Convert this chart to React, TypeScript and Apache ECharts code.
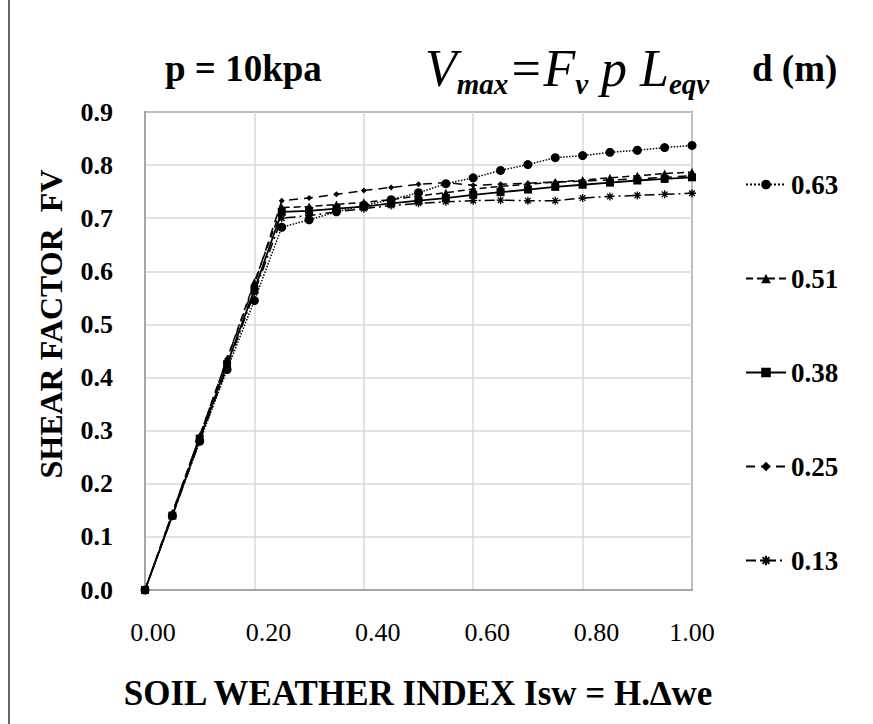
import React, { useEffect, useRef } from "react";
import * as echarts from "echarts";

const xValues = [0, 0.05, 0.1, 0.15, 0.2, 0.25, 0.3, 0.35, 0.4, 0.45, 0.5, 0.55, 0.6, 0.65, 0.7, 0.75, 0.8, 0.85, 0.9, 0.95, 1.0];
const seriesNames = ["0.63", "0.51", "0.38", "0.25", "0.13"];
const s063 = [0, 0.14, 0.28, 0.415, 0.545, 0.683, 0.697, 0.712, 0.724, 0.735, 0.748, 0.765, 0.776, 0.79, 0.801, 0.814, 0.818, 0.824, 0.828, 0.833, 0.837];
const s051 = [0, 0.145, 0.29, 0.435, 0.58, 0.72, 0.722, 0.726, 0.73, 0.735, 0.742, 0.748, 0.755, 0.76, 0.764, 0.768, 0.772, 0.776, 0.78, 0.784, 0.787];
const s038 = [0, 0.14, 0.285, 0.425, 0.565, 0.712, 0.714, 0.718, 0.722, 0.728, 0.733, 0.738, 0.744, 0.749, 0.754, 0.759, 0.763, 0.767, 0.771, 0.774, 0.777];
const s025 = [0, 0.145, 0.29, 0.435, 0.575, 0.733, 0.738, 0.745, 0.752, 0.758, 0.764, 0.767, 0.762, 0.764, 0.766, 0.768, 0.77, 0.772, 0.774, 0.777, 0.78];
const s013 = [0, 0.14, 0.28, 0.42, 0.56, 0.7, 0.705, 0.712, 0.718, 0.724, 0.728, 0.731, 0.733, 0.734, 0.733, 0.733, 0.738, 0.741, 0.743, 0.745, 0.747];

const FONT = '"Liberation Serif", "Times New Roman", serif';

const zip = (ys: number[]) => xValues.map((x, i) => [x, ys[i]]);

export default function App() {
  const ref = useRef<HTMLDivElement>(null);
  useEffect(() => {
    if (!ref.current) return;
    const chart = echarts.init(ref.current, undefined, { renderer: "svg" });
    const asterisk = "path://M0,5L10,5M5,0L5,10M1.5,1.5L8.5,8.5M8.5,1.5L1.5,8.5";
    const mk = (name: string, data: number[], symbol: string, size: number, lineType: any, width = 1.5, stroke = false) => ({
      name,
      type: "line",
      data: zip(data),
      symbol,
      symbolSize: size,
      showSymbol: true,
      lineStyle: { color: "#000", width, type: lineType },
      itemStyle: stroke
        ? { color: "#000", borderColor: "#000", borderWidth: 1.3 }
        : { color: "#000", borderColor: "#000", borderWidth: 0 },
      emphasis: { disabled: true },
    });
    const lbl = { fontFamily: FONT, fontSize: 26, color: "#000" };
    chart.setOption({
      animation: false,
      backgroundColor: "#fff",
      grid: { left: 145, right: 181, top: 112, bottom: 134, show: true, borderColor: "#404040", borderWidth: 1.5 },
      xAxis: {
        type: "value",
        min: 0,
        max: 1,
        interval: 0.2,
        axisLine: { show: true, lineStyle: { color: "#a6a6a6", width: 2 } },
        axisTick: { show: false },
        splitLine: { show: true, lineStyle: { color: "#d9d9d9", width: 1.5 } },
        axisLabel: {
          showMinLabel: true,
          showMaxLabel: true,
          hideOverlap: false,
          formatter: (v: number) => {
            const t = v.toFixed(2);
            if (v <= 0.001) return `{m|${t}}`;
            if (v >= 0.999) return `{e|${t}}`;
            return `{n|${t}}`;
          },
          color: "#000",
          fontFamily: FONT,
          fontSize: 26,
          margin: 29,
          rich: {
            m: { ...lbl, padding: [0, 0, 0, 16] },
            n: { ...lbl, padding: [0, 0, 0, 28] },
            e: { ...lbl, padding: [0, 0, 0, 0] },
          },
        },
      },
      yAxis: {
        type: "value",
        min: 0,
        max: 0.9,
        interval: 0.1,
        axisLine: { show: true, lineStyle: { color: "#a6a6a6", width: 2 } },
        axisTick: { show: false },
        splitLine: { show: true, lineStyle: { color: "#d9d9d9", width: 1.5 } },
        axisLabel: { formatter: (v: number) => v.toFixed(1), color: "#000", fontFamily: FONT, fontSize: 26, fontWeight: "bold", margin: 32 },
      },
      legend: {
        orient: "vertical",
        left: 745,
        top: 171,
        padding: 0,
        itemWidth: 40,
        itemHeight: 12,
        itemGap: 67,
        data: seriesNames,
        textStyle: { color: "#000", fontFamily: FONT, fontSize: 27, fontWeight: "bold" },
      },
      series: [
        mk(seriesNames[0], s063, "circle", 9, "dotted", 1.5),
        mk(seriesNames[1], s051, "triangle", 8, [7, 4], 1.5),
        mk(seriesNames[2], s038, "rect", 8, "solid", 1.8),
        mk(seriesNames[3], s025, "diamond", 6, [9, 6], 1.5),
        mk(seriesNames[4], s013, asterisk, 8, [10, 4, 2, 4], 1.5, true),
      ],
      graphic: [
        { type: "line", shape: { x1: 9, y1: 0, x2: 9, y2: 724 }, style: { stroke: "#333", lineWidth: 1.5 } },
        { type: "text", left: 165, top: 50, style: { text: "p = 10kpa", font: `bold 37px ${FONT}`, fill: "#000" } },
        {
          type: "text",
          left: 425,
          top: 42,
          style: {
            text: "{v|V}{s|max}{v|=F}{s|v}{v| p L}{s|eqv}",
            fill: "#000",
            rich: {
              v: { fontFamily: FONT, fontStyle: "italic", fontSize: 52, lineHeight: 60, fill: "#000" },
              s: { fontFamily: FONT, fontStyle: "italic", fontWeight: "bold", fontSize: 29, lineHeight: 30, verticalAlign: "bottom", fill: "#000" },
            },
          },
        },
        { type: "text", left: 752, top: 50, style: { text: "d (m)", font: `bold 37px ${FONT}`, fill: "#000" } },
        {
          type: "text",
          x: 51,
          y: 324,
          rotation: Math.PI / 2,
          style: { text: "SHEAR FACTOR  FV", font: `bold 32px ${FONT}`, fill: "#000", align: "center", verticalAlign: "middle" },
        },
        {
          type: "text",
          x: 418,
          y: 693,
          style: { text: "SOIL WEATHER INDEX Isw = H.\u2206we", font: `bold 35px ${FONT}`, fill: "#000", align: "center", verticalAlign: "middle" },
        },
      ],
    });
    return () => chart.dispose();
  }, []);
  return <div ref={ref} style={{ position: "fixed", left: 0, top: 0, width: 873, height: 724 }} />;
}
